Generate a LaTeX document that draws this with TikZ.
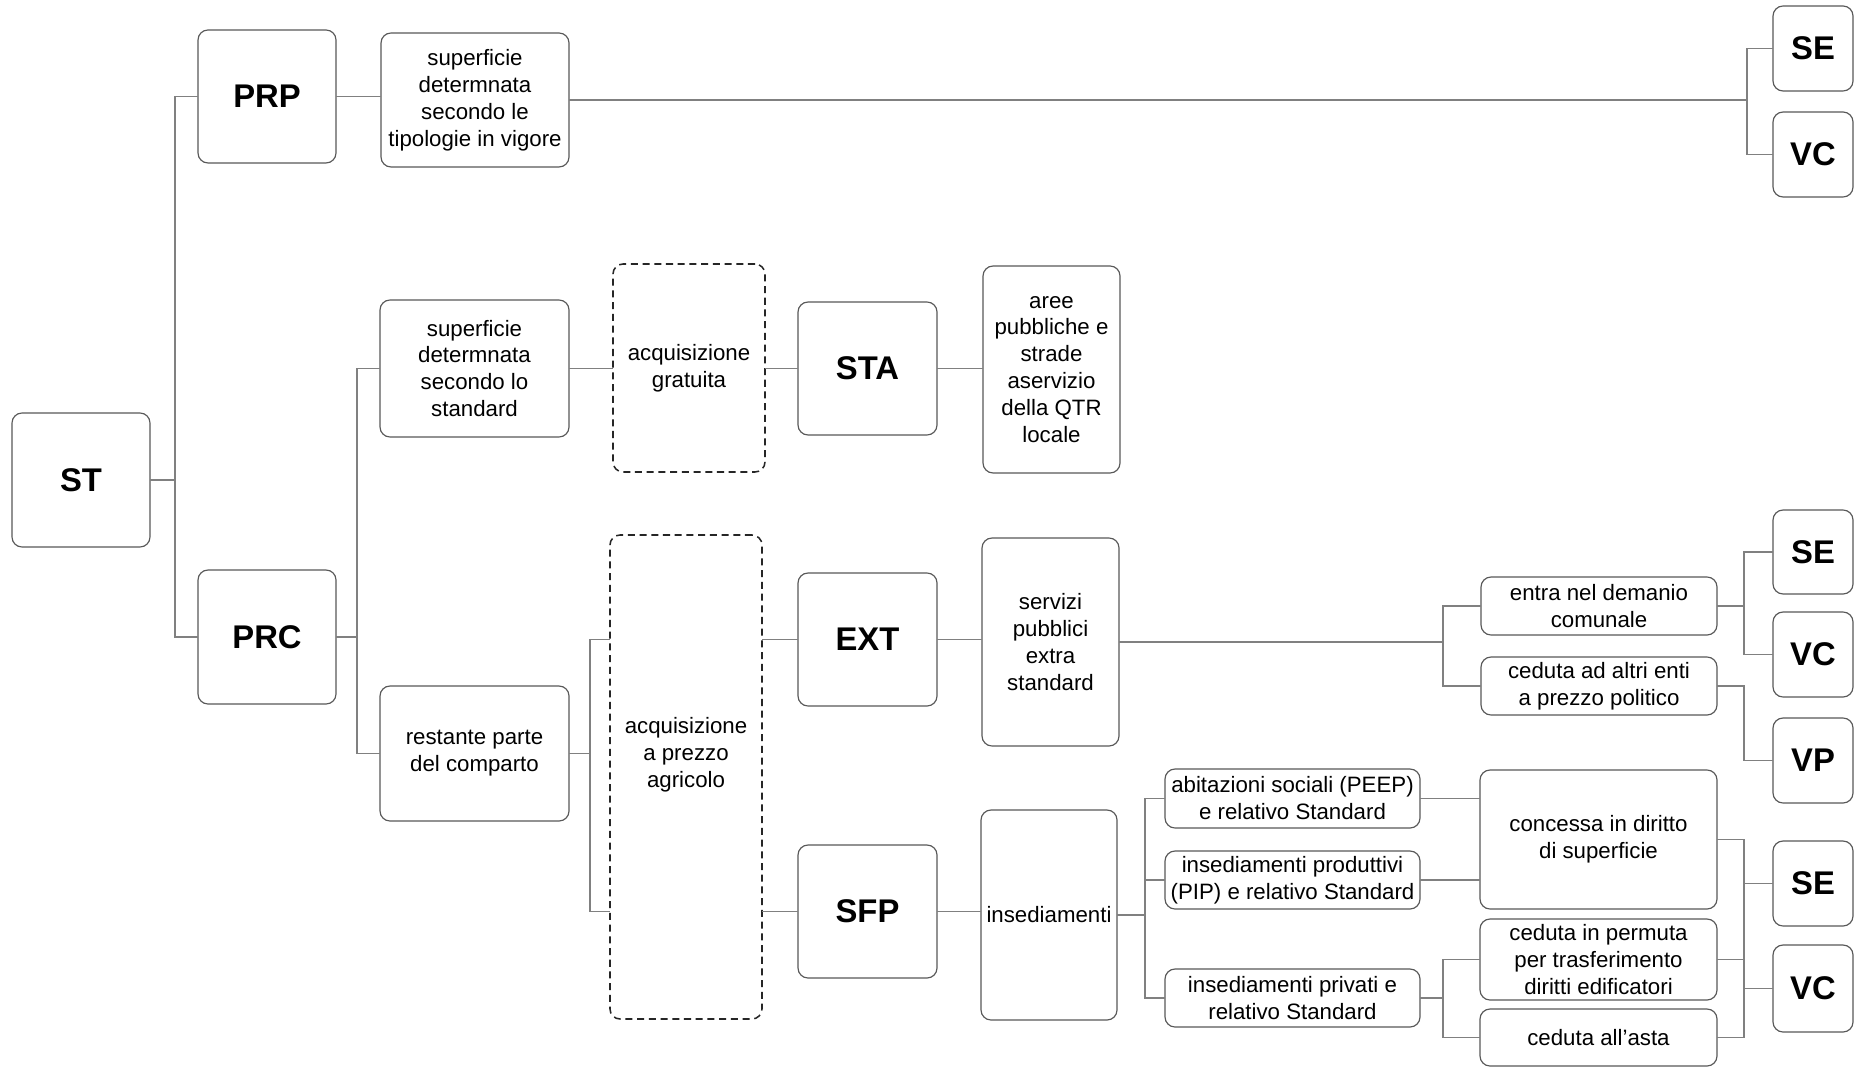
\documentclass[tikz,border=0pt]{standalone}
\usepackage{fontspec}
\setmainfont{Liberation Sans}
\begin{document}
\begin{tikzpicture}[x=0.3mm,y=-0.3mm,
  box/.style={draw=black!65, line width=1pt, rounded corners=3mm, inner sep=0pt, outer sep=0pt, align=center, font=\fontsize{19}{23}\selectfont},
  bbox/.style={box, font=\fontsize{28}{32}\selectfont\bfseries},
  dbox/.style={box, draw=black!85, line width=1.3pt, dash pattern=on 6pt off 4pt},
  txt/.style={inner sep=0pt, align=center, font=\fontsize{19}{23}\selectfont},
  conn/.style={draw=black!50, line width=1pt}]
\newcommand{\bx}[7][box]{\node[#1, minimum width={(#4-#2)*0.3mm}, minimum height={(#5-#3)*0.3mm}] (#6) at ({(#2+#4)/2},{(#3+#5)/2}) {#7};}
\useasboundingbox (0,0) rectangle (1855,1068);
\fill[white] (0,0) rectangle (1855,1068);
% nodes
\bx[bbox]{12}{413}{150}{547}{ST}{ST}
\bx[bbox]{198}{30}{336}{163}{PRP}{PRP}
\bx{381}{33}{569}{167}{sup1}{superficie\\determnata\\secondo le\\tipologie in vigore}
\bx[bbox]{1773}{6}{1853}{91}{SEa}{SE}
\bx[bbox]{1773}{112}{1853}{197}{VCa}{VC}
\bx[bbox]{198}{570}{336}{704}{PRC}{PRC}
\bx{380}{300}{569}{437}{sup2}{superficie\\determnata\\secondo lo\\standard}
\bx[dbox]{613}{264}{765}{472}{acqG}{acquisizione\\gratuita}
\bx[bbox]{798}{302}{937}{435}{STA}{STA}
\bx{983}{266}{1120}{473}{aree}{aree\\pubbliche e\\strade\\aservizio\\della QTR\\locale}
\bx{380}{686}{569}{821}{rest}{restante parte\\del comparto}
\bx[dbox]{610}{535}{762}{1019}{acqP}{}
\node[txt] (acqPt) at ([yshift=6.6mm]acqP.center) {acquisizione\\a prezzo\\agricolo};
\bx[bbox]{798}{573}{937}{706}{EXT}{EXT}
\bx[bbox]{798}{845}{937}{978}{SFP}{SFP}
\bx{982}{538}{1119}{746}{serv}{servizi\\pubblici\\extra\\standard}
\bx{981}{810}{1117}{1020}{insed}{insediamenti}
\bx{1481}{577}{1717}{635}{entra}{entra nel demanio\\comunale}
\bx{1481}{657}{1717}{715}{cedA}{ceduta ad altri enti\\a prezzo politico}
\bx[bbox]{1773}{510}{1853}{594}{SEb}{SE}
\bx[bbox]{1773}{612}{1853}{697}{VCb}{VC}
\bx[bbox]{1773}{718}{1853}{803}{VP}{VP}
\bx{1165}{769}{1420}{828}{abit}{abitazioni sociali (PEEP)\\e relativo Standard}
\bx{1165}{851}{1420}{909}{prod}{insediamenti produttivi\\(PIP) e relativo Standard}
\bx{1165}{969}{1420}{1027}{priv}{insediamenti privati e\\relativo Standard}
\bx{1480}{770}{1717}{909}{conc}{concessa in diritto\\di superficie}
\bx{1480}{919}{1717}{1000}{perm}{ceduta in permuta\\per trasferimento\\diritti edificatori}
\bx{1480}{1009}{1717}{1066}{asta}{ceduta all\symbol{39}asta}
\bx[bbox]{1773}{841}{1853}{926}{SEc}{SE}
\bx[bbox]{1773}{945}{1853}{1032}{VCc}{VC}
% connectors
\draw[conn] (ST.east) -- ++(25,0) |- (PRP.west);
\draw[conn] (ST.east) -- ++(25,0) |- (PRC.west);
\draw[conn] (PRP.east) -- (sup1.west |- PRP.east);
\draw[conn] (sup1.east) -- ++(1178,0) |- (SEa.west);
\draw[conn] (sup1.east) -- ++(1178,0) |- (VCa.west);
\draw[conn] (PRC.east) -- ++(21,0) |- (sup2.west);
\draw[conn] (PRC.east) -- ++(21,0) |- (rest.west);
\draw[conn] (sup2.east) -- (acqG.west |- sup2.east);
\draw[conn] (acqG.east |- STA.west) -- (STA.west);
\draw[conn] (STA.east) -- (aree.west |- STA.east);
\draw[conn] (rest.east) -- ++(21,0) |- (acqP.west |- EXT.west);
\draw[conn] (rest.east) -- ++(21,0) |- (acqP.west |- SFP.west);
\draw[conn] (acqP.east |- EXT.west) -- (EXT.west);
\draw[conn] (acqP.east |- SFP.west) -- (SFP.west);
\draw[conn] (EXT.east) -- (serv.west |- EXT.east);
\draw[conn] (serv.east) -- ++(324,0) |- (entra.west);
\draw[conn] (serv.east) -- ++(324,0) |- (cedA.west);
\draw[conn] (entra.east) -- ++(27,0) |- (SEb.west);
\draw[conn] (entra.east) -- ++(27,0) |- (VCb.west);
\draw[conn] (cedA.east) -- ++(27,0) |- (VP.west);
\draw[conn] (SFP.east) -- (insed.west |- SFP.east);
\draw[conn] (insed.east) -- ++(28,0) |- (abit.west);
\draw[conn] (insed.east) -- ++(28,0) |- (prod.west);
\draw[conn] (insed.east) -- ++(28,0) |- (priv.west);
\draw[conn] (abit.east) -- (conc.west |- abit.east);
\draw[conn] (prod.east) -- (conc.west |- prod.east);
\draw[conn] (priv.east) -- ++(23,0) |- (perm.west);
\draw[conn] (priv.east) -- ++(23,0) |- (asta.west);
\draw[conn] (conc.east) -- ++(27,0) |- (SEc.west);
\draw[conn] (conc.east) -- ++(27,0) |- (VCc.west);
\draw[conn] (perm.east) -- ++(27,0);
\draw[conn] (asta.east) -- ++(27,0) |- (SEc.west);
\end{tikzpicture}
\end{document}
